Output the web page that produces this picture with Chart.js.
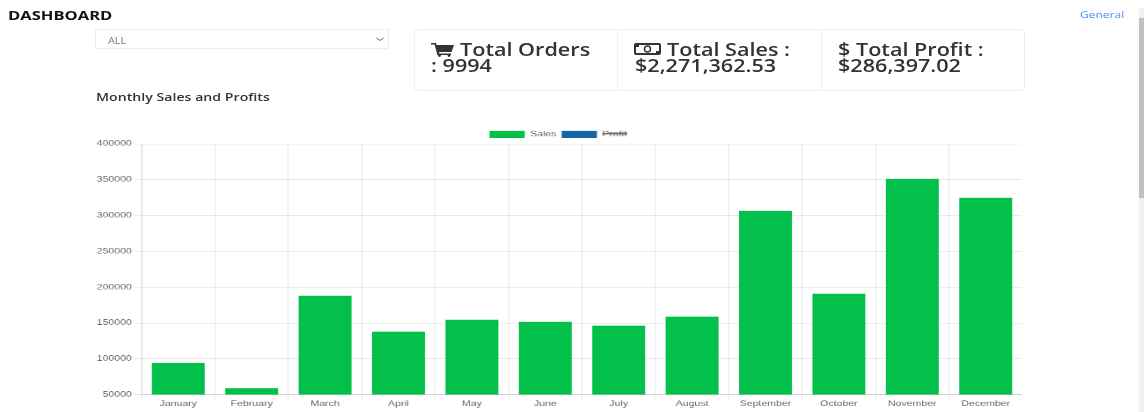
<!DOCTYPE html>
<html>
<head>
<meta charset="utf-8">
<title>Dashboard</title>
<script src="https://cdn.jsdelivr.net/npm/chart.js@4"></script>
<style>
  html, body { margin: 0; padding: 0; width: 1144px; height: 412px; overflow: hidden; background: #fff; }
  body { position: relative; font-family: "Open Sans", sans-serif; color: #212529; }
  .t { position: absolute; white-space: nowrap; transform-origin: 0 0; transform: scale(1.2, 0.9); filter: blur(0.35px); }
  .card { position: absolute; box-sizing: border-box; top: 29px; height: 62px; border: 1px solid #eceef0; }
  .big { font-size: 18px; line-height: 18px; color: #2f3438; font-weight: 600; transform: scale(1.2, 0.95); }
  #wrap { position: absolute; left: 94px; top: 127px; transform-origin: 0 0; transform: scale(0.88, 0.62); filter: blur(0.5px); }
  #scroll { position: absolute; left: 1139px; top: 8px; width: 5px; height: 404px; background: #f1f1f1; }
  #thumb { position: absolute; left: 0; top: 10px; width: 5px; height: 180px; background: #c1c1c1; }
</style>
</head>
<body>
  <div class="t" style="left:8px;top:6px;font-size:13.8px;font-weight:700;color:#111;">DASHBOARD</div>
  <div class="t" style="left:1080px;top:8px;font-size:10px;color:#4a90f0;">General</div>

  <div style="position:absolute;left:95px;top:29px;width:294px;height:20px;box-sizing:border-box;border:1px solid #eceef0;"></div>
  <div class="t" style="left:108px;top:35px;font-size:9px;color:#777;">ALL</div>
  <svg style="position:absolute;left:376px;top:37px;" width="8" height="5"><path d="M0.5 1 L4 3.5 L7.5 1" fill="none" stroke="#666" stroke-width="1"/></svg>

  <div class="t" style="left:96px;top:89px;font-size:11.8px;font-weight:600;color:#333;">Monthly Sales and Profits</div>

  <div class="card" style="left:414px;width:204px;border-radius:3px 0 0 3px;"></div>
  <div class="card" style="left:617px;width:205px;"></div>
  <div class="card" style="left:821px;width:204px;border-radius:0 3px 3px 0;"></div>

  <svg style="position:absolute;left:431px;top:43px;" width="23" height="14" viewBox="0 0 23 14">
    <path d="M0 0 H5 L5.6 2 H23 L20.5 9 H8 L8.4 10.5 H20 V12 H6.4 L3.6 1.6 H0 Z" fill="#2f3438"/>
    <circle cx="8.5" cy="12.6" r="1.4" fill="#2f3438"/><circle cx="18" cy="12.6" r="1.4" fill="#2f3438"/>
  </svg>
  <div class="t big" style="left:460px;top:41px;">Total Orders</div>
  <div class="t big" style="left:431px;top:57px;">: 9994</div>

  <svg style="position:absolute;left:634px;top:43px;" width="27" height="12" viewBox="0 0 27 12">
    <rect x="1" y="1" width="25" height="10" rx="1" fill="none" stroke="#2f3438" stroke-width="2"/>
    <rect x="1" y="1" width="4" height="3" fill="#2f3438"/><rect x="22" y="8" width="4" height="3" fill="#2f3438"/>
    <circle cx="13.5" cy="6" r="3" fill="none" stroke="#2f3438" stroke-width="1.5"/>
  </svg>
  <div class="t big" style="left:667px;top:41px;">Total Sales :</div>
  <div class="t big" style="left:635px;top:57px;">$2,271,362.53</div>

  <div class="t big" style="left:838px;top:41px;">$ Total Profit :</div>
  <div class="t big" style="left:838px;top:57px;">$286,397.02</div>

  <div id="wrap"><canvas id="salesChart" width="1055" height="454"></canvas></div>
  <div id="scroll"><div id="thumb"></div></div>

<script>
const months = ['January', 'February', 'March', 'April', 'May', 'June', 'July', 'August', 'September', 'October', 'November', 'December'];
const salesValues = [93900, 59000, 188000, 137800, 154600, 151800, 146200, 158800, 306500, 190800, 351000, 324700];
// profit is switched off in the legend, so no bars can be read for it
const profitValues = [];

// legend sits tight on the plot in the original
const tightLegend = {
  id: 'tightLegend',
  beforeInit(chart) {
    const fit = chart.legend.fit;
    chart.legend.fit = function () {
      fit.call(this);
      this.height -= 1;
    };
  }
};

new Chart(document.getElementById('salesChart'), {
  type: 'bar',
  data: {
    labels: months,
    datasets: [
      { label: 'Sales', data: salesValues, backgroundColor: '#03c04a' },
      { label: 'Profit', data: profitValues, backgroundColor: '#1565a7', hidden: true }
    ]
  },
  plugins: [tightLegend],
  options: {
    responsive: false,
    animation: false,
    plugins: { legend: { labels: { padding: 6 } } },
    scales: {
      x: { ticks: { padding: 0 } },
      y: { min: 50000, max: 400000, ticks: { stepSize: 50000, callback: v => String(v) } }
    }
  }
});
</script>
</body>
</html>
